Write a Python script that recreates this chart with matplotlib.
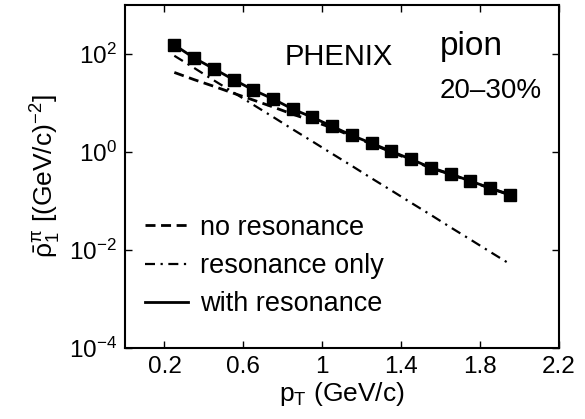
import numpy as np
import matplotlib
matplotlib.use("Agg")
import matplotlib.pyplot as plt

plt.rcParams['font.family'] = ['Liberation Sans', 'DejaVu Sans']
plt.rcParams['mathtext.default'] = 'regular'

# pion spectrum, 20-30% centrality
pt = [0.25, 0.35, 0.45, 0.55, 0.65, 0.75, 0.85, 0.95, 1.05,
      1.15, 1.25, 1.35, 1.45, 1.55, 1.65, 1.75, 1.85, 1.95]
with_res = [153, 83, 50, 30, 18.4, 12.1, 7.5, 5.1, 3.33,
            2.18, 1.50, 1.03, 0.71, 0.48, 0.356, 0.256, 0.184, 0.135]
no_res = [42, 30, 21.9, 15.8, 11.5, 8.3, 5.9, 4.3, 3.1,
          2.1, 1.46, 1.0, 0.69, 0.47, 0.35, 0.253, 0.182, 0.133]
res_only = [92, 52, 29, 16.4, 9.2, 5.2, 2.9, 1.64, 0.92,
            0.52, 0.29, 0.164, 0.092, 0.052, 0.029, 0.0164, 0.0092, 0.0052]

xticks = [0.2, 0.6, 1.0, 1.4, 1.8, 2.2]
xticklabels = ['0.2', '0.6', '1', '1.4', '1.8', '2.2']
yticks = [1e-4, 1e-2, 1e0, 1e2]

fig = plt.figure(figsize=(5.85, 4.19), dpi=100)
ax = fig.add_axes([0.2137, 0.1695, 0.7419, 0.8186])

ax.semilogy(pt, no_res, color='k', lw=2, dashes=(3.6, 2.0), label='no resonance')
ax.semilogy(pt, res_only, color='k', lw=1.6, dashes=(4.5, 2.5, 1.0, 2.5), label='resonance only')
ax.semilogy(pt, with_res, color='k', lw=2, label='with resonance')
ax.semilogy(pt, with_res, 's', color='k', ms=8.5)

ax.set_xlim(0, 2.2)
ax.set_ylim(1e-4, 1e3)
ax.set_xticks(xticks)
ax.set_xticklabels(xticklabels)
ax.set_yticks(yticks)
ax.yaxis.set_minor_locator(matplotlib.ticker.NullLocator())
ax.tick_params(direction='in', top=True, right=True, length=5, width=1,
               labelsize=17.5, pad=6)
for s in ax.spines.values():
    s.set_linewidth(1.5)

ax.set_xlabel('$p_T$ (GeV/c)', fontsize=19, labelpad=1)
ax.set_ylabel(r'$\bar{\rho}_1^{\pi}$ [(GeV/c)$^{-2}$]', fontsize=19, labelpad=4)

ax.text(0.493, 0.825, 'PHENIX', transform=ax.transAxes, fontsize=21,
        ha='center', va='baseline')
ax.text(0.726, 0.854, 'pion', transform=ax.transAxes, fontsize=24,
        ha='left', va='baseline')
ax.text(0.726, 0.729, '20\u201330%', transform=ax.transAxes, fontsize=20,
        ha='left', va='baseline')

ax.legend(loc='center left', bbox_to_anchor=(0.046, 0.239), frameon=False,
          fontsize=19.5, handlelength=1.6, handletextpad=0.45,
          labelspacing=0.45, borderpad=0, borderaxespad=0)

fig.savefig('out.png', dpi=100)
